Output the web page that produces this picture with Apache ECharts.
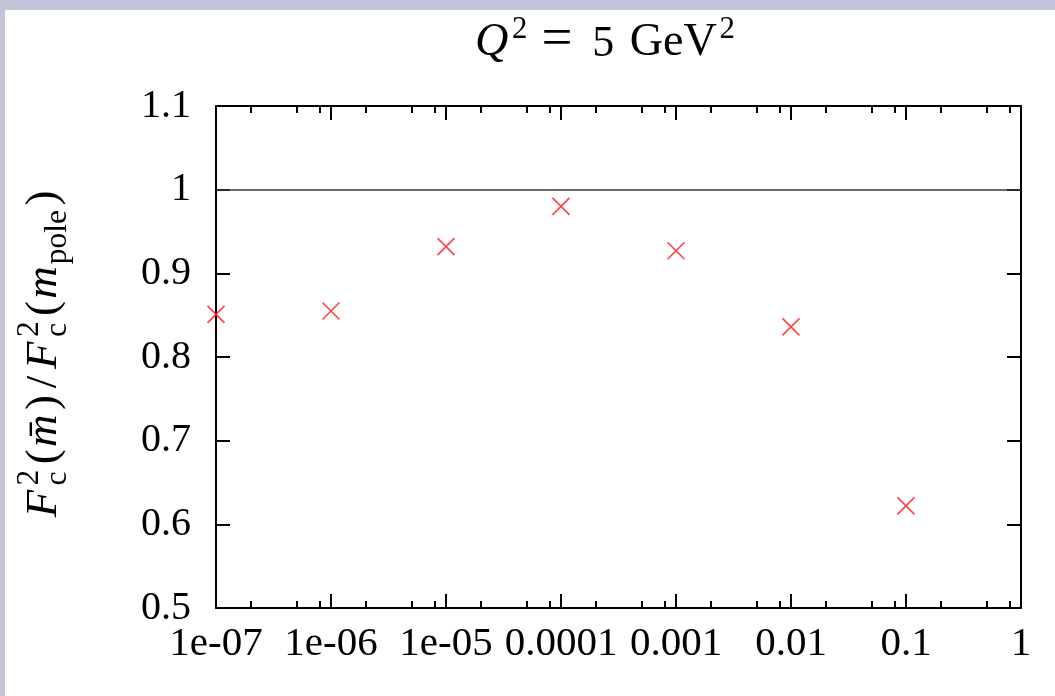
<!DOCTYPE html>
<html>
<head>
<meta charset="utf-8">
<script src="https://cdn.jsdelivr.net/npm/echarts@6/dist/echarts.min.js"></script>
<style>
  html, body { margin: 0; padding: 0; background: #c4c4d9; overflow: hidden; }
  #frame { position: absolute; left: 5px; top: 10px; width: 1050px; height: 686px; background: #ffffff; }
  #chart { width: 1050px; height: 686px; }
</style>
</head>
<body>
<div id="frame"><div id="chart"></div></div>
<script>
// x positions (Bjorken x) and the F2c ratio at Q^2 = 5 GeV^2
const xValues = [1e-7, 1e-6, 1e-5, 1e-4, 1e-3, 1e-2, 1e-1];
const ratioValues = [0.851, 0.855, 0.932, 0.980, 0.927, 0.836, 0.622];

// axis tick values and their printed labels
const xMajorTicks = [1e-7, 1e-6, 1e-5, 1e-4, 1e-3, 1e-2, 1e-1, 1];
const xTickLabels = ['1e-07', '1e-06', '1e-05', '0.0001', '0.001', '0.01', '0.1', '1'];
const xMinorSteps = [2, 5, 8];
const yTickValues = [0.5, 0.6, 0.7, 0.8, 0.9, 1.0, 1.1];
const yTickLabels = ['0.5', '0.6', '0.7', '0.8', '0.9', '1', '1.1'];
const referenceLevel = 1;

const SERIF = '"Liberation Serif", "Times New Roman", serif';
const INK = '#000000';

// minor ticks at 2, 5, 8 times each decade
const xMinorTicks = [];
xMajorTicks.slice(0, -1).forEach(d => xMinorSteps.forEach(k => xMinorTicks.push(+(k * d).toPrecision(3))));

function xLabel(v) {
  const i = xMajorTicks.findIndex(t => Math.abs(Math.log10(t) - Math.log10(v)) < 1e-6);
  return i >= 0 ? xTickLabels[i] : '';
}
function yLabel(v) {
  const i = yTickValues.findIndex(t => Math.abs(t - v) < 1e-6);
  return i >= 0 ? yTickLabels[i] : '';
}

// --- small typesetting helper for the math-style title and axis name ---
const measureCtx = document.createElement('canvas').getContext('2d');
function textWidth(t, size, italic) {
  measureCtx.font = (italic ? 'italic ' : '') + size + 'px ' + SERIF;
  return measureCtx.measureText(t).width;
}
// pieces: {t, scale, it, dy (em, negative = up), stack (share x with previous), kern (em)}
function mathRow(pieces, base) {
  let x = 0, lastX = 0, lastW = 0;
  const els = [];
  pieces.forEach(p => {
    const size = base * (p.scale || 1);
    const w = textWidth(p.t, size, p.it);
    let px;
    if (p.stack) {
      px = lastX;
      lastW = Math.max(lastW, w);
      x = lastX + lastW;
    } else {
      px = x + (p.kern || 0) * base;
      x = px + w;
      lastX = px;
      lastW = w;
    }
    els.push({
      type: 'text',
      x: px,
      y: (p.dy || 0) * base - 0.34 * size,
      style: {
        text: p.t,
        fontSize: size,
        fontFamily: SERIF,
        fontStyle: p.it ? 'italic' : 'normal',
        fill: INK,
        align: 'left', textAlign: 'left',
        verticalAlign: 'middle', textVerticalAlign: 'middle'
      }
    });
  });
  return { els, width: x };
}

const SUP = { scale: 0.7, dy: -0.42 };
const SUB = { scale: 0.7, dy: 0.22 };

const titleRow = mathRow([
  { t: 'Q', it: true, scale: 1.05 },
  Object.assign({ t: '2', kern: 0.08 }, SUP),
  { t: '=', kern: 0.32, scale: 1.25 },
  { t: '5', kern: 0.45 },
  { t: 'GeV', kern: 0.35, scale: 1.05 },
  Object.assign({ t: '2', kern: 0.06 }, SUP)
], 44);

const yNameRow = mathRow([
  { t: 'F', it: true },
  Object.assign({ t: '2', kern: 0.1 }, SUP),
  Object.assign({ t: 'c', stack: true }, SUB),
  { t: '(', kern: 0.12 },
  { t: 'm\u0304', it: true, kern: 0.05 },
  { t: ')', kern: 0.1 },
  { t: '/', kern: 0.15 },
  { t: 'F', it: true, kern: 0.15 },
  Object.assign({ t: '2', kern: 0.1 }, SUP),
  Object.assign({ t: 'c', stack: true }, SUB),
  { t: '(', kern: 0.12 },
  { t: 'm', it: true, kern: 0.05 },
  Object.assign({ t: 'pole', kern: 0.04 }, SUB),
  { t: ')', kern: 0.1 }
], 45);

const chart = echarts.init(document.getElementById('chart'), null, { renderer: 'canvas' });

const tickLine = { color: INK, width: 2 };
const frameLine = { show: true, lineStyle: { color: INK, width: 2 } };
const logRange = { type: 'log', logBase: 10, min: 1e-7, max: 1 };

chart.setOption({
  animation: false,
  backgroundColor: '#ffffff',
  grid: { left: 211, right: 34, top: 96, bottom: 88, containLabel: false },
  xAxis: [
    Object.assign({}, logRange, {
      position: 'bottom', offset: 0,
      axisLine: frameLine,
      axisTick: { show: true, inside: true, length: 14, lineStyle: tickLine, customValues: xMajorTicks },
      axisLabel: {
        show: true, customValues: xMajorTicks, formatter: xLabel,
        fontFamily: SERIF, fontSize: 41, color: INK, margin: 16
      },
      splitLine: { show: false }, minorTick: { show: false }
    }),
    Object.assign({}, logRange, {
      position: 'bottom', offset: 0,
      axisLine: { show: false },
      axisTick: { show: true, inside: true, length: 7, lineStyle: tickLine, customValues: xMinorTicks },
      axisLabel: { show: false },
      splitLine: { show: false }
    }),
    Object.assign({}, logRange, {
      position: 'top', offset: 0,
      axisLine: frameLine,
      axisTick: { show: true, inside: true, length: 14, lineStyle: tickLine, customValues: xMajorTicks },
      axisLabel: { show: false },
      splitLine: { show: false }
    }),
    Object.assign({}, logRange, {
      position: 'top', offset: 0,
      axisLine: { show: false },
      axisTick: { show: true, inside: true, length: 7, lineStyle: tickLine, customValues: xMinorTicks },
      axisLabel: { show: false },
      splitLine: { show: false }
    })
  ],
  yAxis: [
    {
      type: 'value', min: 0.5, max: 1.1, interval: 0.1, position: 'left',
      axisLine: frameLine,
      axisTick: { show: true, inside: true, length: 14, lineStyle: tickLine, customValues: yTickValues },
      axisLabel: {
        show: true, customValues: yTickValues, formatter: yLabel,
        fontFamily: SERIF, fontSize: 40, color: INK, margin: 25
      },
      splitLine: { show: false }
    },
    {
      type: 'value', min: 0.5, max: 1.1, interval: 0.1, position: 'right',
      axisLine: frameLine,
      axisTick: { show: true, inside: true, length: 14, lineStyle: tickLine, customValues: yTickValues },
      axisLabel: { show: false },
      splitLine: { show: false }
    }
  ],
  series: [
    {
      type: 'scatter',
      xAxisIndex: 0, yAxisIndex: 0,
      data: xValues.map((x, i) => [x, ratioValues[i]]),
      symbol: 'path://M0,0L10,10M10,0L0,10',
      symbolSize: 17,
      itemStyle: { color: 'none', borderColor: '#ff2d2d', borderWidth: 1.6, opacity: 0.9 },
      clip: false,
      markLine: {
        silent: true,
        symbol: ['none', 'none'],
        label: { show: false },
        lineStyle: { color: '#3a3a3a', width: 1.5, type: 'solid' },
        data: [{ yAxis: referenceLevel }]
      }
    }
  ],
  graphic: [
    {
      type: 'group',
      x: 600 - titleRow.width / 2,
      y: 49,
      children: titleRow.els
    },
    {
      type: 'group',
      rotation: Math.PI / 2,
      x: 54,
      y: 344 + yNameRow.width / 2,
      children: yNameRow.els
    }
  ]
});
</script>
</body>
</html>
